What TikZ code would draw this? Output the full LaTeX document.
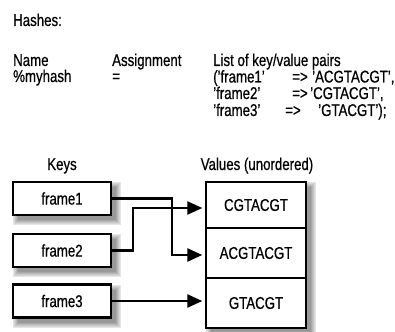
\documentclass[tikz,border=0pt]{standalone}
\usepackage{fontspec}
\setmainfont{Liberation Sans}[FakeStretch=0.78,FakeBold=0.6]
\usetikzlibrary{arrows.meta}
\definecolor{shA}{rgb}{0.90,0.90,0.90}
\definecolor{shB}{rgb}{0.84,0.84,0.84}
\definecolor{shC}{rgb}{0.78,0.78,0.78}
\definecolor{shD}{rgb}{0.72,0.72,0.72}
\definecolor{shE}{rgb}{0.66,0.66,0.66}
\definecolor{shF}{rgb}{0.60,0.60,0.60}
\tikzset{
  lbl/.style={inner sep=0pt, anchor=base west, font=\fontsize{17}{20}\selectfont},
  ctr/.style={inner sep=0pt, anchor=base, font=\fontsize{17}{20}\selectfont},
  keybox/.style={draw=black, line width=2.4pt, fill=white, minimum width=98pt, minimum height=33pt, inner sep=0pt, font=\fontsize{17}{20}\selectfont},
  valcell/.style={draw=black, line width=2.4pt, fill=white, minimum width=100pt, inner sep=0pt, font=\fontsize{17}{20}\selectfont},
  conn/.style={line width=2.4pt, -{Triangle[length=15pt,width=13pt]}, shorten >=2.5pt},
  shadowfill/.style={draw=none}
}
\begin{document}
\begin{tikzpicture}[x=1pt,y=-1pt]
\useasboundingbox (0,0) rectangle (395,331);
% soft shadows (drawn first, behind the boxes)
\foreach \xa/\ya/\xb/\yb in {13/182/111/215, 13/234/111/267, 13/284.5/111/317.5, 206/182/306/328}{
  \fill[shA] (\xa,\ya) rectangle (\xb+10,\yb+10);
  \fill[shB] (\xa+1,\ya+1) rectangle (\xb+9,\yb+9);
  \fill[shC] (\xa+2,\ya+2) rectangle (\xb+8,\yb+8);
  \fill[shD] (\xa+3,\ya+3) rectangle (\xb+7,\yb+7);
  \fill[shE] (\xa+4,\ya+4) rectangle (\xb+6,\yb+6);
  \fill[shF] (\xa+5,\ya+5) rectangle (\xb+5,\yb+5);
}
% header texts
\node[lbl] (hashes) at (13,26) {Hashes:};
\node[lbl] (name) at (13,66) {Name};
\node[lbl] (myhash) at (13,82) {\%myhash};
\node[lbl] (assign) at (112,66) {Assignment};
\node[lbl] (eq) at (112,82) {=};
\node[lbl] (l1) at (213,66) {List of key/value pairs};
\node[lbl] (l2a) at (213,82.5) {('frame1'};
\node[lbl] (l2b) at (292,82.5) {=>};
\node[lbl] (l2c) at (312,82.5) {'ACGTACGT',};
\node[lbl] (l3a) at (213,99) {'frame2'};
\node[lbl] (l3b) at (292,99) {=>};
\node[lbl] (l3c) at (310,99) {'CGTACGT',};
\node[lbl] (l4a) at (213,116) {'frame3'};
\node[lbl] (l4b) at (285,116) {=>};
\node[lbl] (l4c) at (318,116) {'GTACGT');};
% column titles
\node[ctr] (keys) at (62,170) {Keys};
\node[ctr] (vals) at (257,170) {Values (unordered)};
% key boxes
\node[keybox] (k1) at (62,198.5) {frame1};
\node[keybox] (k2) at (62,250.5) {frame2};
\node[keybox] (k3) at (62,301) {frame3};
% value cells
\node[valcell, minimum height=46pt] (v1) at (256,205) {CGTACGT};
\node[valcell, minimum height=50pt] (v2) at (256,253) {ACGTACGT};
\node[valcell, minimum height=50pt] (v3) at (256,303) {GTACGT};
% connectors
\coordinate (b1) at (172,0);
\coordinate (b2) at (133,0);
\draw[conn] (k1.east) -- (k1.east -| b1) |- ([yshift=-2pt]v2.west);
\draw[conn] (k2.east) -- (k2.east -| b2) |- ([yshift=-3pt]v1.west);
\draw[conn] (k3.east) -- (k3.east -| v3.west);
\end{tikzpicture}
\end{document}
